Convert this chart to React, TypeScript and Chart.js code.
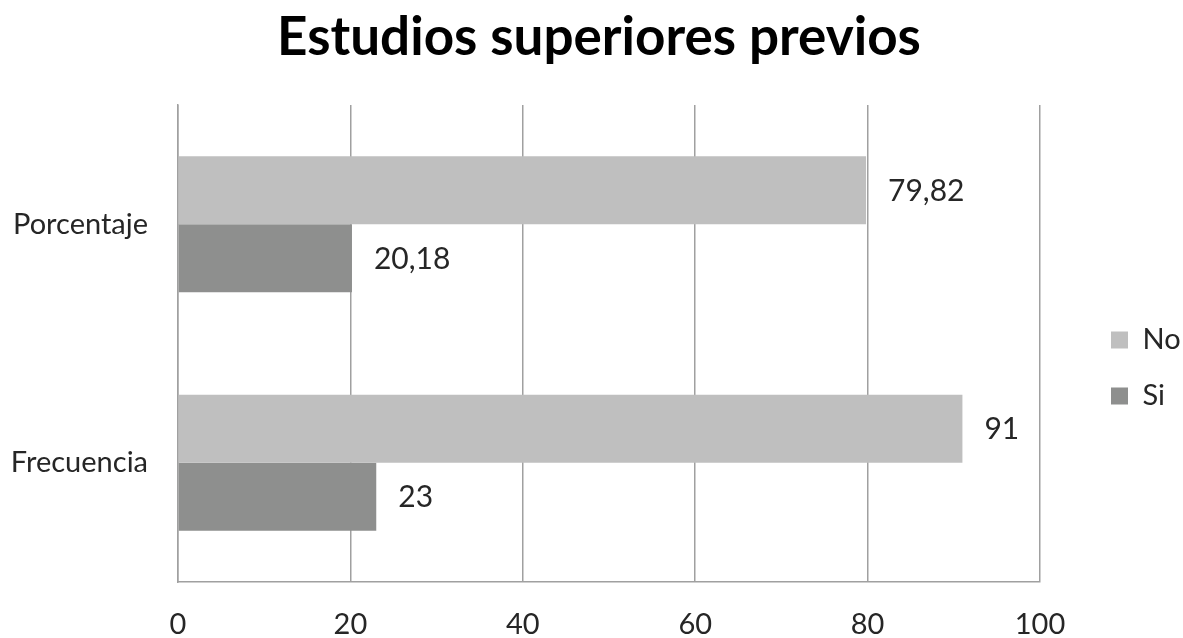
import React, { useEffect, useRef } from "react";
import { Chart, registerables } from "chart.js";

Chart.register(...registerables);

const TITLE = "Estudios superiores previos";
const categories = ["Porcentaje", "Frecuencia"];
const seriesNames = ["No", "Si"];
const noValues = [79.82, 91];
const siValues = [20.18, 23];
const xTicks = [0, 20, 40, 60, 80, 100];

const FONT = "Lato, 'Open Sans', sans-serif";

const fmt = (v: number) => String(v).replace(".", ",");

const dataLabelPlugin = {
  id: "dataLabels",
  afterDatasetsDraw(chart: any) {
    const ctx = chart.ctx;
    ctx.save();
    ctx.font = `30px ${FONT}`;
    ctx.fillStyle = "#262626";
    ctx.textAlign = "left";
    ctx.textBaseline = "middle";
    chart.data.datasets.forEach((ds: any, i: number) => {
      const meta = chart.getDatasetMeta(i);
      if (meta.hidden) return;
      meta.data.forEach((bar: any, j: number) => {
        ctx.fillText(fmt(ds.data[j]), bar.x + 22, bar.y + 1);
      });
    });
    ctx.restore();
  },
};

// Nudge the library legend and title boxes to where the reference has them
const boxShiftPlugin = {
  id: "boxShift",
  afterLayout(chart: any) {
    const lg = chart.legend;
    if (lg) {
      const dx = chart.chartArea.right + 44 - lg.left;
      const dy = 46;
      lg.left += dx;
      lg.right += dx;
      lg.top += dy;
      lg.bottom += dy;
    }
    const tb = chart.titleBlock;
    if (tb) {
      tb.left += 15;
      tb.right += 0;
    }
  },
};

export default function App() {
  const ref = useRef<HTMLCanvasElement | null>(null);
  useEffect(() => {
    document.body.style.margin = "0";
    const chart = new Chart(ref.current!, {
      type: "bar",
      data: {
        labels: categories,
        datasets: [
          {
            label: seriesNames[0],
            data: noValues,
            backgroundColor: "#bfbfbf",
            borderWidth: 0,
          },
          {
            label: seriesNames[1],
            data: siValues,
            backgroundColor: "#8e8f8e",
            borderWidth: 0,
          },
        ],
      },
      options: {
        indexAxis: "y",
        responsive: true,
        maintainAspectRatio: false,
        animation: false,
        layout: { padding: { left: 0, right: 0, top: 6, bottom: 0 } },
        datasets: {
          bar: { categoryPercentage: 0.57, barPercentage: 1.0 },
        },
        scales: {
          x: {
            min: 0,
            max: 100,
            afterBuildTicks: (axis: any) => {
              axis.ticks = xTicks.map((v) => ({ value: v }));
            },
            afterFit: (axis: any) => {
              axis.height = 56;
              axis.paddingLeft = 0;
              axis.paddingRight = 143;
            },
            grid: {
              display: true,
              color: "#a0a0a0",
              lineWidth: 1.5,
              drawTicks: false,
            },
            border: { display: true, color: "#a0a0a0", width: 1.5 },
            ticks: {
              padding: 25,
              color: "#262626",
              font: { family: FONT, size: 29 },
            },
          },
          y: {
            afterFit: (axis: any) => {
              axis.width = 178;
              axis.paddingTop = 0;
              axis.paddingBottom = 0;
            },
            grid: { display: false, drawTicks: false },
            border: { display: true, color: "#a0a0a0", width: 1.5 },
            ticks: {
              padding: 30,
              color: "#262626",
              font: { family: FONT, size: 29 },
            },
          },
        },
        plugins: {
          title: {
            display: true,
            text: TITLE,
            color: "#000000",
            font: { family: FONT, size: 53, weight: "bold" },
            padding: { top: 0, bottom: 35.4 },
          },
          legend: {
            display: true,
            position: "right",
            align: "center",
            labels: {
              boxWidth: 17,
              boxHeight: 17,
              padding: 27,
              color: "#262626",
              font: { family: FONT, size: 29 },
            },
          },
          tooltip: { enabled: false },
        },
      },
      plugins: [dataLabelPlugin, boxShiftPlugin],
    } as any);
    return () => chart.destroy();
  }, []);
  return (
    <div style={{ position: "relative", width: 1183, height: 638 }}>
      <canvas ref={ref} />
    </div>
  );
}
